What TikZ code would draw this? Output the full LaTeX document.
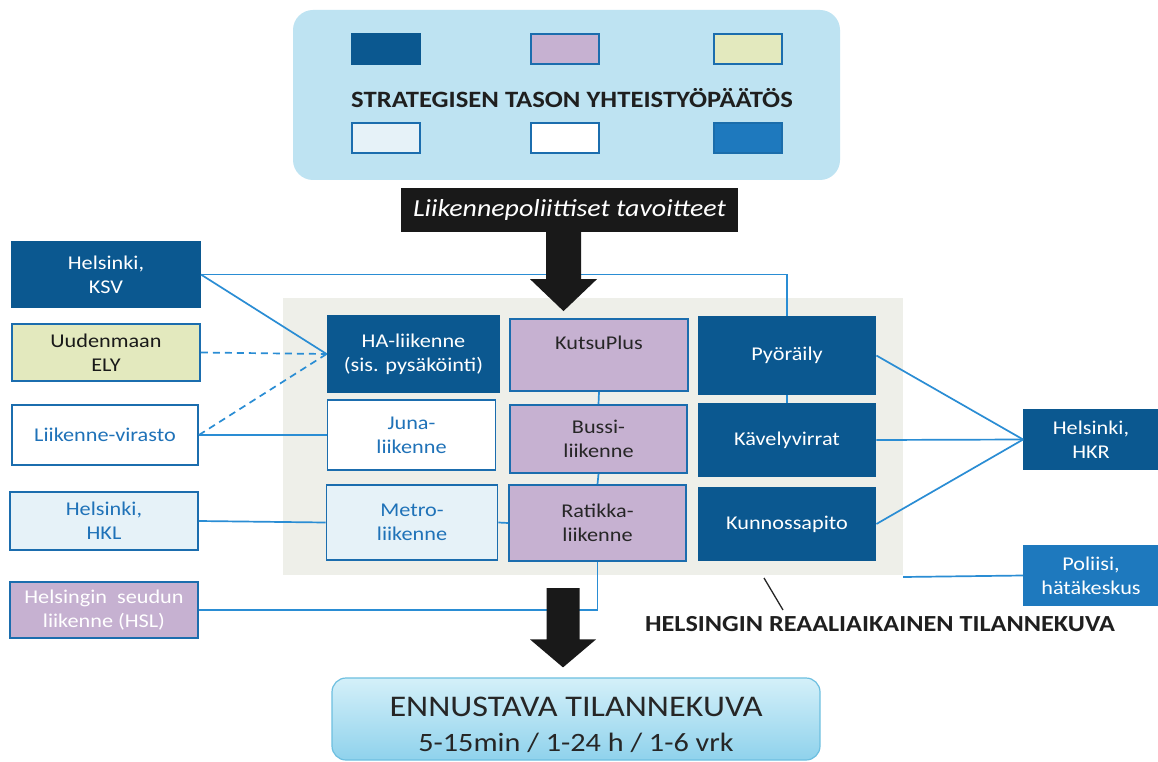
\documentclass[tikz,border=0pt]{standalone}
\usepackage{fontspec}
\setmainfont{Carlito}[FakeStretch=1.14]
\usetikzlibrary{calc}
\definecolor{dkblue}{HTML}{0B5890}
\definecolor{bordblue}{HTML}{1B6DAE}
\definecolor{txtblue}{HTML}{1F72B8}
\definecolor{lineblue}{HTML}{2A8DD4}
\definecolor{lilac}{HTML}{C6B1D1}
\definecolor{elyfill}{HTML}{E3E9BE}
\definecolor{pale}{HTML}{E6F2F8}
\definecolor{midblue}{HTML}{1E79BE}
\definecolor{topfill}{HTML}{BEE3F2}
\definecolor{graybg}{HTML}{EEEFE9}
\definecolor{fcborder}{HTML}{6DBFE0}
\definecolor{fctop}{HTML}{D4F0F9}
\definecolor{fcbottom}{HTML}{8FD2EC}
\newcommand{\boxfont}{\fontsize{19.5}{24}\selectfont}
\begin{document}
\begin{tikzpicture}[x=1pt,y=-1pt,
  box/.style={rectangle, draw=bordblue, line width=1.8pt, inner sep=0pt,
    align=center, font=\boxfont},
  darkbox/.style={box, fill=dkblue, draw=dkblue, text=white},
  lilacbox/.style={box, fill=lilac, text=black!85},
  whitebox/.style={box, fill=white, text=txtblue},
  palebox/.style={box, fill=pale, text=txtblue},
  elybox/.style={box, fill=elyfill, text=black!90},
  midbox/.style={box, fill=midblue, draw=midblue, text=white},
  legend/.style={rectangle, draw=bordblue, line width=1.8pt,
    minimum width=68pt, minimum height=30pt, inner sep=0pt},
  link/.style={draw=lineblue, line width=1.7pt},
  dlink/.style={link, dash pattern=on 7pt off 5pt},
  blockarrow/.style={fill=black!90}]
\useasboundingbox (0,0) rectangle (1158,762);
\fill[white] (0,0) rectangle (1158,762);

% strategic decision panel
\fill[topfill, rounded corners=20pt] (293,10) rectangle (840,180);
\node[font=\fontsize{23.4}{26}\selectfont\bfseries, text=black!88] (strat) at (572,98)
  {STRATEGISEN TASON YHTEISTYÖPÄÄTÖS};
\node[legend, fill=dkblue, draw=dkblue] (lg1) at (386,49) {};
\node[legend, fill=lilac] (lg2) at (565,49) {};
\node[legend, fill=elyfill] (lg3) at (748,49) {};
\node[legend, fill=pale] (lg4) at (386,138) {};
\node[legend, fill=white] (lg5) at (565,138) {};
\node[legend, fill=midblue, draw=midblue!90!black] (lg6) at (748,138) {};

% policy goals label
\node[fill=black!90, text=white, font=\fontsize{24.5}{28}\selectfont\itshape,
  minimum width=337pt, minimum height=44pt, inner sep=0pt] (lbl) at (569.5,210)
  {Liikennepoliittiset tavoitteet};

% real-time picture area
\fill[graybg] (283,298) rectangle (903,575);

% central modes
\node[darkbox, minimum width=172pt, minimum height=76pt] (ha) at (413.5,354)
  {HA-liikenne\\(sis. pysäköinti)};
\node[whitebox, minimum width=168pt, minimum height=70pt] (juna) at (411.5,435)
  {Juna-\\liikenne};
\node[palebox, minimum width=171pt, minimum height=75pt] (metro) at (412,522.5)
  {Metro-\\liikenne};
\node[lilacbox, minimum width=178pt, minimum height=72pt] (kutsu) at (599,355)
  {KutsuPlus\\\phantom{X}};
\node[lilacbox, minimum width=177pt, minimum height=68pt] (bussi) at (598.5,439)
  {Bussi-\\liikenne};
\node[lilacbox, minimum width=177pt, minimum height=76pt] (ratikka) at (597.5,523)
  {Ratikka-\\liikenne};
\node[darkbox, minimum width=177pt, minimum height=77pt] (pyo) at (787,355.5)
  {Pyöräily};
\node[darkbox, minimum width=177pt, minimum height=72pt] (kavely) at (787,440)
  {Kävelyvirrat};
\node[darkbox, minimum width=177pt, minimum height=72pt] (kunno) at (787,524)
  {Kunnossapito};

% actors on the left
\node[darkbox, minimum width=188pt, minimum height=65pt] (ksv) at (106,274.5)
  {Helsinki,\\KSV};
\node[elybox, minimum width=188pt, minimum height=57pt] (ely) at (106,352.5)
  {Uudenmaan\\ELY};
\node[whitebox, minimum width=186pt, minimum height=60pt] (lv) at (105,435)
  {Liikenne-virasto};
\node[palebox, minimum width=188pt, minimum height=58pt] (hkl) at (104,521)
  {Helsinki,\\HKL};
\node[lilacbox, text=white, minimum width=188pt, minimum height=56pt] (hsl) at (104,610)
  {Helsingin\ \ seudun\\liikenne (HSL)};

% actors on the right
\node[darkbox, minimum width=134pt, minimum height=59pt] (hkr) at (1091,439.5)
  {Helsinki,\\HKR};
\node[midbox, minimum width=134pt, minimum height=59pt] (pol) at (1091,575.5)
  {Poliisi,\\hätäkeskus};

% forecast panel
\node[draw=fcborder, line width=1.2pt, rounded corners=14pt, top color=fctop,
  bottom color=fcbottom, minimum width=488pt, minimum height=82pt, inner sep=0pt]
  (fc) at (576,719) {};
\node[font=\fontsize{30}{34}\selectfont, text=black!85] (fc1) at (576,707)
  {ENNUSTAVA TILANNEKUVA};
\node[font=\fontsize{26.5}{30}\selectfont, text=black!85] (fc2) at (576,743)
  {5-15min / 1-24 h / 1-6 vrk};

% area caption
\node[font=\fontsize{23}{26}\selectfont\bfseries, text=black!88] (rt) at (880,624)
  {HELSINGIN REAALIAIKAINEN TILANNEKUVA};
\coordinate (leadtop) at (764,578);
\coordinate (leadbot) at (783,610);
\draw[line width=1.3pt, black!85] (leadtop) -- (leadbot);

% connectors
\draw[link] (ksv.east) -- (ksv.east -| pyo.north) -- (pyo.north);
\draw[link] (ksv.east) -- (ha.west);
\draw[dlink] (ely.east) -- (ha.west);
\draw[dlink] (lv.east) -- (ha.west);
\draw[link] (lv.east) -- (juna.west);
\draw[link] (hkl.east) -- (metro.west);
\draw[link] (metro.east) -- (ratikka.west);
\draw[link] (kutsu.south) -- (bussi.north);
\draw[link] (bussi.south) -- (ratikka.north);
\draw[link] (pyo.south) -- (kavely.north);
\draw[link] (hsl.east) -- (hsl.east -| ratikka.south) -- (ratikka.south);
\draw[link] (pyo.east) -- (hkr.west);
\draw[link] (kavely.east) -- (hkr.west);
\draw[link] (kunno.east) -- (hkr.west);
\coordinate (polend) at (903,577);
\draw[link] (pol.west) -- (polend);

% block arrows
\coordinate (a1s) at ($(lbl.south)+(-6,0)$);
\coordinate (a1t) at ($(a1s |- kutsu.north)+(0,-7)$);
\fill[blockarrow] ($(a1s)+(-17.5,0)$) -- ($(a1t)+(-17.5,-32)$) -- ($(a1t)+(-33.5,-32)$)
  -- (a1t) -- ($(a1t)+(33.5,-32)$) -- ($(a1t)+(17.5,-32)$) -- ($(a1s)+(17.5,0)$) -- cycle;
\coordinate (a2s) at (563,588);
\coordinate (a2t) at ($(a2s |- fc.north)+(0,-10)$);
\fill[blockarrow] ($(a2s)+(-16.5,0)$) -- ($(a2t)+(-16.5,-28)$) -- ($(a2t)+(-33,-28)$)
  -- (a2t) -- ($(a2t)+(33,-28)$) -- ($(a2t)+(16.5,-28)$) -- ($(a2s)+(16.5,0)$) -- cycle;
\end{tikzpicture}
\end{document}
